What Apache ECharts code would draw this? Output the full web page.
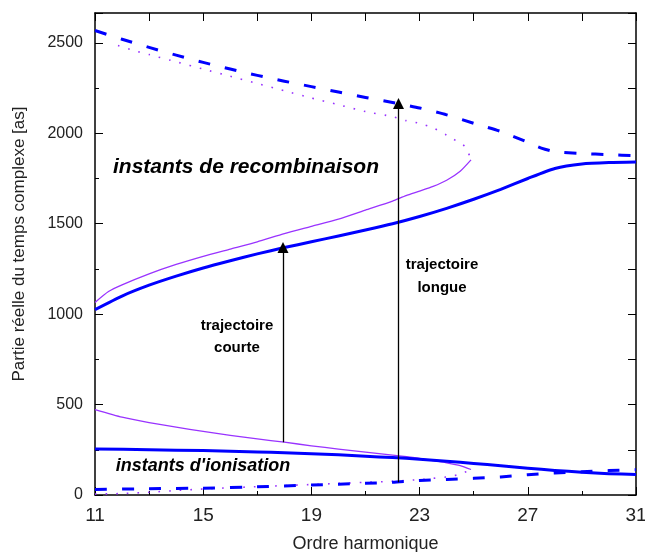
<!DOCTYPE html>
<html>
<head>
<meta charset="utf-8">
<script src="https://cdn.jsdelivr.net/npm/echarts@6/dist/echarts.min.js"></script>
<style>
  html, body { margin: 0; padding: 0; background: #fff; }
  #chart { width: 645px; height: 552px; }
</style>
</head>
<body>
<div id="chart"></div>
<script>
// instants de recombinaison, trajectoire courte (trait plein bleu)
const recShort = [[11, 1025], [12, 1100], [13, 1160], [14, 1210], [15, 1255], [16, 1295], [17, 1333],
  [18, 1368], [19, 1400], [20, 1432], [21, 1465], [22, 1500], [23, 1540], [24, 1585], [25, 1635],
  [26, 1690], [27, 1750], [28, 1805], [29, 1830], [30, 1838], [31, 1841]]
// instants de recombinaison, trajectoire longue (tirets bleus)
const recLong = [[11, 2568], [12, 2520], [13, 2475], [14, 2432], [15, 2392], [16, 2355], [17, 2320],
  [18, 2288], [19, 2258], [20, 2228], [21, 2198], [22, 2170], [23, 2140], [24, 2102], [25, 2055],
  [26, 2010], [27, 1950], [27.5, 1918], [28, 1898], [29, 1888], [30, 1882], [31, 1876]]
// modele violet, trajectoire courte (trait fin)
const recShortV = [[11, 1065], [11.5, 1125], [12, 1162], [13, 1223], [14, 1275], [15, 1320], [16, 1360],
  [17, 1400], [18, 1445], [19, 1485], [20, 1525], [21, 1575], [22, 1625], [22.5, 1655], [23, 1680],
  [23.5, 1706], [24, 1740], [24.5, 1790], [24.9, 1853]]
// modele violet, trajectoire longue (pointilles)
const recLongV = [[11.85, 2485], [12.5, 2455], [13, 2435], [14, 2395], [15, 2355], [16, 2315], [17, 2275],
  [18, 2235], [19, 2195], [20, 2158], [21, 2120], [22, 2092], [22.5, 2070], [23, 2055], [23.5, 2030],
  [24, 1990], [24.5, 1945], [24.7, 1925], [24.9, 1855]]
// instants d'ionisation
const ionShort = [[11, 255], [13, 250], [15, 246], [17, 238], [18, 234], [19, 228], [20, 222], [21, 214],
  [22, 207], [23, 198], [24, 187], [25, 174], [26, 162], [27, 148], [28, 136], [29, 126], [30, 118], [31, 114]]
const ionLong = [[11, 30], [13, 35], [15, 38], [17, 45], [18, 50], [19, 55], [20, 60], [21, 65], [22, 70],
  [23, 80], [24, 86], [25, 92], [26, 100], [27, 112], [28, 122], [29, 128], [30, 135], [31, 140]]
const ionShortV = [[11, 472], [12, 430], [13, 400], [14, 375], [15, 352], [16, 330], [17, 310], [18, 292],
  [19, 272], [20, 254], [21, 237], [22, 220], [23, 203], [23.5, 190], [24, 178], [24.5, 163], [24.9, 141]]
const ionLongV = [[11, 5], [12, 8], [13, 15], [14, 25], [15, 33], [16, 40], [17, 46], [18, 52], [19, 58],
  [20, 64], [21, 70], [22, 76], [23, 85], [23.5, 92], [24, 100], [24.5, 115], [24.9, 141]]
// fleches : ionisation -> recombinaison
const arrowCourte = [[17.95, 292], [17.95, 1368]]
const arrowLongue = [[22.22, 70], [22.22, 2165]]

const blue = '#0000ff'
const violet = '#9933ff'
const font = '"Liberation Sans", Arial, sans-serif'

const chart = echarts.init(document.getElementById('chart'))

const frameLine = { onZero: false, lineStyle: { color: '#000', width: 1.5 } }

function curve (data, color, width, type) {
  return {
    type: 'line',
    data: data,
    showSymbol: false,
    smooth: 0.2,
    silent: true,
    lineStyle: { color: color, width: width, type: type || 'solid', cap: 'butt', join: 'round' },
    z: color === blue ? 3 : 2
  }
}

const option = {
  backgroundColor: '#fff',
  animation: false,
  grid: { left: 95, right: 9, top: 13, bottom: 57, containLabel: false, outerBoundsMode: 'none' },
  xAxis: [{
    type: 'value',
    min: 11,
    max: 31,
    interval: 4,
    axisLine: frameLine,
    axisTick: { inside: true, length: 8, lineStyle: { color: '#000' } },
    minorTick: { show: true, splitNumber: 2, length: 4, lineStyle: { color: '#000' } },
    splitLine: { show: false },
    axisLabel: { fontSize: 19, color: '#222', margin: 11, fontFamily: font },
    name: 'Ordre harmonique',
    nameLocation: 'middle',
    nameGap: 40,
    nameTextStyle: { fontSize: 18, color: '#222', fontFamily: font }
  }, {
    type: 'value',
    position: 'top',
    min: 11,
    max: 31,
    interval: 2,
    axisLine: frameLine,
    axisTick: { inside: true, length: 8, lineStyle: { color: '#000' } },
    axisLabel: { show: false },
    splitLine: { show: false }
  }],
  yAxis: [{
    type: 'value',
    min: 0,
    max: 2665,
    interval: 500,
    axisLine: frameLine,
    axisTick: { inside: true, length: 8, lineStyle: { color: '#000' } },
    minorTick: { show: true, splitNumber: 2, length: 4, lineStyle: { color: '#000' } },
    splitLine: { show: false },
    axisLabel: {
      fontSize: 16, color: '#222', margin: 12, fontFamily: font, showMaxLabel: false,
      formatter: v => String(v)
    }
  }, {
    type: 'value',
    position: 'right',
    min: 0,
    max: 2665,
    interval: 250,
    axisLine: frameLine,
    axisTick: { inside: true, length: 8, lineStyle: { color: '#000' } },
    axisLabel: { show: false },
    splitLine: { show: false }
  }],
  series: [
    curve(recShortV, violet, 1.3),
    curve(recLongV, violet, 1.6, [1.6, 9]),
    curve(ionShortV, violet, 1.3),
    curve(ionLongV, violet, 1.6, [1.6, 9]),
    curve(recShort, blue, 3),
    curve(recLong, blue, 3, [12, 15]),
    curve(ionShort, blue, 3),
    curve(ionLong, blue, 3, [12, 15]),
    {
      type: 'lines',
      coordinateSystem: 'cartesian2d',
      silent: true,
      symbol: ['none', 'triangle'],
      symbolSize: [6, 11],
      lineStyle: { color: '#000', width: 1.3, opacity: 1 },
      data: [{ coords: arrowCourte }, { coords: arrowLongue }],
      z: 5
    }
  ],
  graphic: [
    {
      type: 'text', x: 246, y: 167, silent: true,
      style: { text: 'instants de recombinaison', font: 'italic bold 21px ' + font, fill: '#000', align: 'center', verticalAlign: 'middle' }
    },
    {
      type: 'text', x: 203, y: 466, silent: true,
      style: { text: "instants d'ionisation", font: 'italic bold 18px ' + font, fill: '#000', align: 'center', verticalAlign: 'middle' }
    },
    {
      type: 'text', x: 237, y: 337, silent: true,
      style: { text: 'trajectoire\ncourte', font: 'bold 15px ' + font, lineHeight: 22, fill: '#000', align: 'center', verticalAlign: 'middle' }
    },
    {
      type: 'text', x: 442, y: 276, silent: true,
      style: { text: 'trajectoire\nlongue', font: 'bold 15px ' + font, lineHeight: 23, fill: '#000', align: 'center', verticalAlign: 'middle' }
    },
    {
      type: 'text', x: 19, y: 244, rotation: Math.PI / 2, silent: true,
      style: { text: 'Partie réelle du temps complexe [as]', font: '17px ' + font, fill: '#222', align: 'center', verticalAlign: 'middle' }
    }
  ]
}

chart.setOption(option)
</script>
</body>
</html>
